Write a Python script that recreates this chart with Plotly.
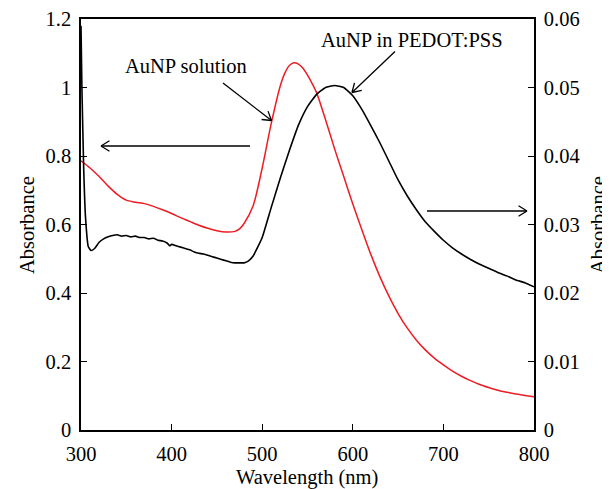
import math
import plotly.graph_objects as go

# ---- data ----
red_wl = [300, 310, 320, 330, 340, 350, 360, 370, 380, 390, 400, 410, 420, 430, 440, 450,
          460, 470, 475, 480, 490, 500, 510, 520, 525, 530, 535, 540, 545, 550, 555, 560, 570,
          580, 590, 600, 610, 620, 630, 640, 650, 660, 670, 680, 690, 700, 710, 720, 730, 740,
          750, 760, 770, 780, 790, 800]
red_abs = [0.786, 0.765, 0.740, 0.712, 0.688, 0.671, 0.665, 0.661, 0.653, 0.643, 0.632, 0.620,
           0.609, 0.598, 0.589, 0.582, 0.578, 0.580, 0.587, 0.603, 0.655, 0.765, 0.895, 1.005,
           1.042, 1.064, 1.072, 1.068, 1.056, 1.036, 1.012, 0.985, 0.905, 0.820, 0.740, 0.660,
           0.585, 0.512, 0.447, 0.390, 0.340, 0.298, 0.263, 0.234, 0.210, 0.190, 0.172, 0.157,
           0.144, 0.133, 0.124, 0.116, 0.110, 0.105, 0.101, 0.097]

blk_wl = [300, 301, 303, 305, 308, 311, 315, 320, 325, 330, 335, 340, 345, 350, 355, 360, 365,
          370, 375, 380, 385, 390, 395, 398, 400, 405, 410, 415, 420, 425, 430, 435, 440, 445,
          450, 455, 460, 465, 470, 475, 480, 485, 490, 500, 510, 520, 530, 540, 550, 560, 570,
          580, 590, 600, 610, 620, 630, 640, 650, 660, 670, 680, 690, 700, 710, 720, 730, 740,
          750, 760, 770, 780, 790, 800]
blk_abs = [0.0590, 0.0500, 0.0380, 0.0310, 0.0268, 0.0262, 0.0265, 0.0274, 0.0279, 0.0282,
           0.0284, 0.0285, 0.0283, 0.0284, 0.0282, 0.0283, 0.0281, 0.0281, 0.0279, 0.0280,
           0.0277, 0.0276, 0.0273, 0.0269, 0.0271, 0.0269, 0.0267, 0.0265, 0.0263, 0.0260,
           0.0258, 0.0257, 0.0255, 0.0253, 0.0251, 0.0249, 0.0247, 0.0245, 0.0244, 0.0244,
           0.0244, 0.0247, 0.0254, 0.0281, 0.0325, 0.0368, 0.0408, 0.0445, 0.0472, 0.0490,
           0.0500, 0.0503, 0.0500, 0.0488, 0.0468, 0.0444, 0.0419, 0.0392, 0.0365, 0.0342,
           0.0322, 0.0304, 0.0290, 0.0277, 0.0266, 0.0257, 0.0249, 0.0242, 0.0236, 0.0230,
           0.0225, 0.0219, 0.0215, 0.0209]

x_ticks = [300, 400, 500, 600, 700, 800]
y1_ticks = [0, 0.2, 0.4, 0.6, 0.8, 1.0, 1.2]
y1_labels = ["0", "0.2", "0.4", "0.6", "0.8", "1", "1.2"]
y2_ticks = [0, 0.01, 0.02, 0.03, 0.04, 0.05, 0.06]
y2_labels = ["0", "0.01", "0.02", "0.03", "0.04", "0.05", "0.06"]

# ---- layout geometry (page pixels; page body has an 8px margin) ----
W, H = 610, 489
OFF = 8
L, R, T, B = 81, 534, 19, 430
XR = (300, 800)
Y1R = (0, 1.2)

def px2x(px):
    return XR[0] + (px - L) / (R - L) * (XR[1] - XR[0])

def py2y(py):
    return Y1R[0] + (B - py) / (B - T) * (Y1R[1] - Y1R[0])

def pxp(px):
    return (px - L) / (R - L)

def pyp(py):
    return (B - py) / (B - T)

FONT = "Liberation Serif"
FS = 20.5
tfont = dict(family=FONT, size=FS, color="black")

fig = go.Figure()
fig.add_trace(go.Scatter(x=red_wl, y=red_abs, mode="lines",
                         line=dict(color="#ee1c24", width=1.5, shape="spline", smoothing=0.8),
                         yaxis="y", showlegend=False, hoverinfo="skip"))
fig.add_trace(go.Scatter(x=blk_wl, y=blk_abs, mode="lines",
                         line=dict(color="black", width=1.6, shape="spline", smoothing=0.4),
                         yaxis="y2", showlegend=False, hoverinfo="skip"))

shapes = []

def arrow(x0, y0, x1, y1, head=10, ang=32):
    """pixel coords; tip at (x1, y1); open chevron head"""
    line = dict(color="black", width=1.3)
    shapes.append(dict(type="line", xref="x", yref="y", x0=px2x(x0), y0=py2y(y0),
                       x1=px2x(x1), y1=py2y(y1), line=line))
    th = math.atan2(y0 - y1, x0 - x1)
    for s in (-1, 1):
        a = th + s * math.radians(ang)
        hx, hy = x1 + head * math.cos(a), y1 + head * math.sin(a)
        shapes.append(dict(type="line", xref="x", yref="y", x0=px2x(x1), y0=py2y(y1),
                           x1=px2x(hx), y1=py2y(hy), line=line))

arrow(250, 146, 101, 146)
arrow(427, 211, 527, 211)
arrow(223, 83, 271.5, 120.5)
arrow(395, 51.5, 352, 92.5)

def label(text, px, py, angle=0):
    return dict(text=text, x=pxp(px), y=pyp(py), xref="paper", yref="paper", showarrow=False,
                xanchor="center", yanchor="middle", textangle=angle, font=tfont)

annotations = [
    label("AuNP solution", 186, 66),
    label("AuNP in PEDOT:PSS", 412, 40),
    label("Absorbance", 27, 225, -90),
    label("Absorbance", 598, 225, -90),
    label("Wavelength (nm)", 307, 477),
]

axis_common = dict(showline=True, linecolor="black", linewidth=1.5, ticks="inside", ticklen=6,
                   tickwidth=1.3, tickcolor="black", showgrid=False, zeroline=False,
                   automargin=False, tickfont=tfont)

fig.update_layout(
    width=W, height=H,
    margin=dict(l=L - OFF, r=W - (R - OFF), t=T - OFF, b=H - (B - OFF), autoexpand=False),
    paper_bgcolor="white", plot_bgcolor="white",
    xaxis=dict(range=list(XR), tickvals=x_ticks, mirror=True, ticklabelstandoff=5, **axis_common),
    yaxis=dict(range=list(Y1R), tickvals=y1_ticks, ticktext=y1_labels, ticklabelstandoff=4, **axis_common),
    yaxis2=dict(range=[0, 0.06], tickvals=y2_ticks, ticktext=y2_labels, overlaying="y", side="right",
                ticklabelstandoff=4, **axis_common),
    shapes=shapes, annotations=annotations,
)

fig.write_html("out.html")
